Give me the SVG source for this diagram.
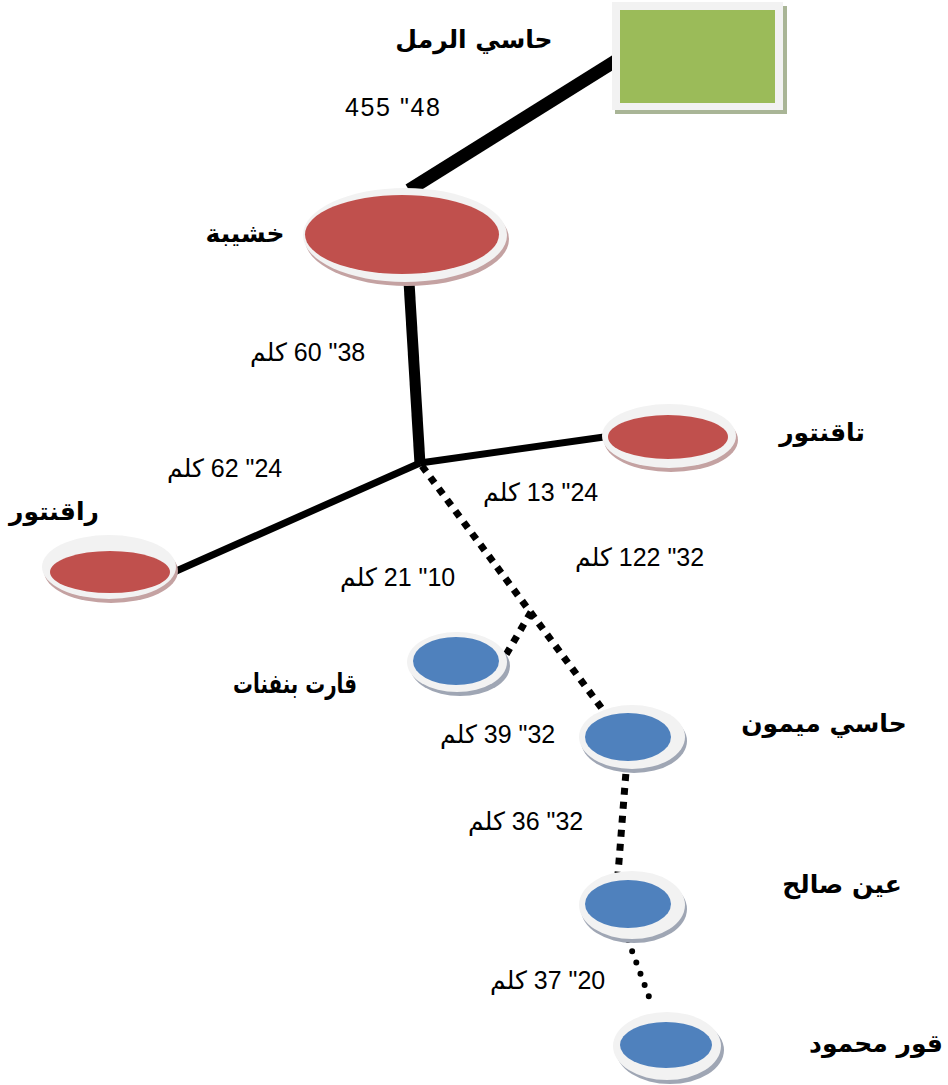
<svg xmlns="http://www.w3.org/2000/svg" width="948" height="1085" viewBox="0 0 948 1085">
  <style>
    .name { font-family: "DejaVu Sans", "Liberation Sans", sans-serif; font-weight: bold; font-size: 25px; fill: #000; text-anchor: middle; }
    .dist { font-family: "Liberation Sans", "DejaVu Sans", sans-serif; font-size: 25px; fill: #000; }
    .frame { fill: #F2F2F2; }
    .sh-red { fill: #C4A2A2; }
    .sh-blue { fill: #9FA6B4; }
    .red { fill: #C0504D; }
    .blue { fill: #4F81BD; }
    .solid { stroke: #000; fill: none; }
    .dots { stroke: #000; fill: none; stroke-width: 7; stroke-dasharray: 7 7; }
    .round-dots { stroke: #000; fill: none; stroke-width: 6; stroke-dasharray: 0 12; stroke-linecap: round; }
  </style>

  <!-- connectors -->
  <g id="connectors">
    <line class="solid" x1="409" y1="190" x2="617" y2="60" stroke-width="13"/>
    <line class="solid" x1="409" y1="282" x2="420" y2="464" stroke-width="11"/>
    <line class="solid" x1="420" y1="463" x2="604" y2="437" stroke-width="7"/>
    <line class="solid" x1="420" y1="463" x2="174" y2="572" stroke-width="7"/>
    <line class="dots" x1="422" y1="466" x2="603" y2="710"/>
    <line class="dots" x1="531" y1="612" x2="500" y2="665"/>
    <line class="dots" x1="628" y1="746" x2="618" y2="874"/>
    <line class="round-dots" x1="628" y1="940" x2="652" y2="1005"/>
  </g>

  <!-- station: Hassi R'Mel -->
  <g id="hassi-rmel">
    <rect x="615" y="6" width="172" height="108" fill="#A9B596"/>
    <rect x="612" y="2" width="171" height="108" class="frame"/>
    <rect x="620" y="10" width="155" height="93" fill="#9BBB59"/>
    <text class="name" x="474" y="48">حاسي الرمل</text>
  </g>

  <!-- station: Khechiba -->
  <g id="khechiba">
    <ellipse cx="407" cy="239" rx="102" ry="47" class="sh-red"/>
    <ellipse cx="405" cy="235" rx="102" ry="47" class="frame"/>
    <ellipse cx="402" cy="234.5" rx="97" ry="39.5" class="red"/>
    <text class="name" x="245" y="242">خشيبة</text>
  </g>

  <!-- station: Taguentour -->
  <g id="taguentour">
    <ellipse cx="671" cy="440" rx="67" ry="32" class="sh-red"/>
    <ellipse cx="669" cy="436" rx="67" ry="32" class="frame"/>
    <ellipse cx="668" cy="437" rx="60" ry="22" class="red"/>
    <text class="name" x="822" y="441">تاقنتور</text>
  </g>

  <!-- station: Raguentour -->
  <g id="raguentour">
    <ellipse cx="111" cy="571" rx="67" ry="32" class="sh-red"/>
    <ellipse cx="109" cy="567" rx="67" ry="32" class="frame"/>
    <ellipse cx="110" cy="572" rx="60" ry="21" class="red"/>
    <text class="name" x="54" y="520">راقنتور</text>
  </g>

  <!-- station: Gart Benfenat -->
  <g id="gart-benfenat">
    <ellipse cx="460" cy="666" rx="50" ry="30" class="sh-blue"/>
    <ellipse cx="457" cy="662" rx="50" ry="30" class="frame"/>
    <ellipse cx="456" cy="661" rx="43" ry="24" class="blue"/>
    <text class="name" x="295" y="693" textLength="124" lengthAdjust="spacingAndGlyphs" style="font-size:27px">قارت بنفنات</text>
  </g>

  <!-- station: Hassi Mimoun -->
  <g id="hassi-mimoun">
    <ellipse cx="634" cy="741" rx="53" ry="32" class="sh-blue"/>
    <ellipse cx="632" cy="737" rx="53" ry="32" class="frame"/>
    <ellipse cx="628" cy="737" rx="43" ry="24" class="blue"/>
    <text class="name" x="824" y="732">حاسي ميمون</text>
  </g>

  <!-- station: In Salah -->
  <g id="in-salah">
    <ellipse cx="634" cy="909" rx="53" ry="34" class="sh-blue"/>
    <ellipse cx="632" cy="905" rx="53" ry="34" class="frame"/>
    <ellipse cx="628" cy="904" rx="43" ry="24" class="blue"/>
    <text class="name" x="842" y="893">عين صالح</text>
  </g>

  <!-- station: Gour Mahmoud -->
  <g id="gour-mahmoud">
    <ellipse cx="670" cy="1050" rx="54" ry="34" class="sh-blue"/>
    <ellipse cx="667" cy="1046" rx="54" ry="34" class="frame"/>
    <ellipse cx="666" cy="1045" rx="46" ry="23" class="blue"/>
    <text class="name" x="876" y="1052">قور محمود</text>
  </g>

  <!-- distance labels -->
  <g id="distances">
    <text class="dist" x="345" y="116" textLength="95" lengthAdjust="spacing">455 "48</text>
    <text class="dist" x="250" y="361">كلم&#x200E; 60 "38</text>
    <text class="dist" x="167" y="477">كلم&#x200E; 62 "24</text>
    <text class="dist" x="483" y="501">كلم&#x200E; 13 "24</text>
    <text class="dist" x="575" y="566">كلم&#x200E; 122 "32</text>
    <text class="dist" x="340" y="586">كلم&#x200E; 21 "10</text>
    <text class="dist" x="440" y="743">كلم&#x200E; 39 "32</text>
    <text class="dist" x="468" y="830">كلم&#x200E; 36 "32</text>
    <text class="dist" x="490" y="989">كلم&#x200E; 37 "20</text>
  </g>
</svg>
